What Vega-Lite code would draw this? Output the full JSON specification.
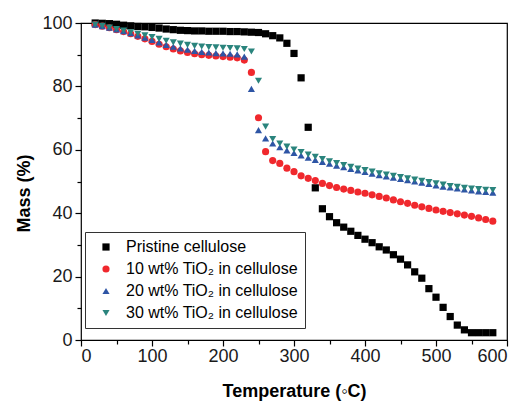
{
  "$schema": "https://vega.github.io/schema/vega-lite/v6.json",
  "width": 426,
  "height": 317,
  "autosize": "none",
  "padding": {"left": 81, "top": 23, "right": 18, "bottom": 63},
  "background": "white",
  "config": {
    "view": {"stroke": "black", "strokeWidth": 1.2},
    "font": "Liberation Sans",
    "axis": {
      "domain": false,
      "grid": false,
      "tickColor": "black",
      "tickWidth": 1.2,
      "labelFont": "Liberation Sans",
      "labelFontSize": 18,
      "labelColor": "#1a1a1a",
      "titleFont": "Liberation Sans",
      "titleFontSize": 18,
      "titleFontWeight": "bold",
      "titleColor": "black"
    },
    "legend": {
      "orient": "none",
      "legendX": 4,
      "legendY": 209,
      "strokeColor": "#333333",
      "fillColor": "white",
      "padding": 7,
      "symbolOffset": 6,
      "labelOffset": 12,
      "labelLimit": 400,
      "rowPadding": 6,
      "labelFont": "Liberation Sans",
      "labelFontSize": 16,
      "labelColor": "black",
      "symbolSize": 50,
      "symbolStrokeWidth": 0
    }
  },
  "data": {
    "values": [
      {"T": 20, "P": 100, "R": 99.5, "B": 99.5, "G": 99.5},
      {"T": 30, "P": 99.9, "R": 99.0, "B": 99.0, "G": 99.1},
      {"T": 40, "P": 99.8, "R": 98.5, "B": 98.5, "G": 98.6},
      {"T": 50, "P": 99.6, "R": 97.9, "B": 98.0, "G": 98.1},
      {"T": 60, "P": 99.3, "R": 97.3, "B": 97.4, "G": 97.6},
      {"T": 70, "P": 99.1, "R": 96.6, "B": 96.8, "G": 97.1},
      {"T": 80, "P": 98.9, "R": 95.8, "B": 96.1, "G": 96.6},
      {"T": 90, "P": 98.8, "R": 95.0, "B": 95.4, "G": 96.1},
      {"T": 100, "P": 98.6, "R": 94.2, "B": 94.7, "G": 95.6},
      {"T": 110, "P": 98.4, "R": 93.3, "B": 93.9, "G": 95.0},
      {"T": 120, "P": 98.1, "R": 92.5, "B": 93.1, "G": 94.4},
      {"T": 130, "P": 97.9, "R": 91.8, "B": 92.5, "G": 93.9},
      {"T": 140, "P": 97.7, "R": 91.2, "B": 92.0, "G": 93.5},
      {"T": 150, "P": 97.6, "R": 90.7, "B": 91.6, "G": 93.1},
      {"T": 160, "P": 97.5, "R": 90.3, "B": 91.2, "G": 92.8},
      {"T": 170, "P": 97.5, "R": 90.0, "B": 90.9, "G": 92.6},
      {"T": 180, "P": 97.4, "R": 89.8, "B": 90.7, "G": 92.4},
      {"T": 190, "P": 97.4, "R": 89.6, "B": 90.5, "G": 92.3},
      {"T": 200, "P": 97.4, "R": 89.4, "B": 90.4, "G": 92.2},
      {"T": 210, "P": 97.3, "R": 89.2, "B": 90.3, "G": 92.1},
      {"T": 220, "P": 97.3, "R": 89.0, "B": 90.1, "G": 92.0},
      {"T": 230, "P": 97.2, "R": 88.3, "B": 89.4, "G": 91.8},
      {"T": 240, "P": 97.1, "R": 84.4, "B": 79.2, "G": 91.0},
      {"T": 250, "P": 97.0, "R": 70.1, "B": 66.2, "G": 81.8},
      {"T": 260, "P": 96.6, "R": 59.4, "B": 63.6, "G": 67.3},
      {"T": 270, "P": 96.0, "R": 56.6, "B": 62.0, "G": 63.4},
      {"T": 280, "P": 95.3, "R": 55.7, "B": 60.8, "G": 62.0},
      {"T": 290, "P": 93.6, "R": 54.2, "B": 59.8, "G": 61.0},
      {"T": 300, "P": 90.4, "R": 53.1, "B": 59.0, "G": 60.1},
      {"T": 310, "P": 82.7, "R": 51.8, "B": 58.2, "G": 59.3},
      {"T": 320, "P": 67.1, "R": 51.0, "B": 57.5, "G": 58.5},
      {"T": 330, "P": 48.0, "R": 50.3, "B": 56.8, "G": 57.8},
      {"T": 340, "P": 41.4, "R": 49.4, "B": 56.2, "G": 57.1},
      {"T": 350, "P": 38.9, "R": 48.7, "B": 55.6, "G": 56.4},
      {"T": 360, "P": 37.0, "R": 48.1, "B": 55.0, "G": 55.8},
      {"T": 370, "P": 35.6, "R": 47.6, "B": 54.5, "G": 55.2},
      {"T": 380, "P": 34.3, "R": 47.2, "B": 54.0, "G": 54.6},
      {"T": 390, "P": 33.0, "R": 46.7, "B": 53.5, "G": 54.1},
      {"T": 400, "P": 31.8, "R": 46.3, "B": 53.0, "G": 53.6},
      {"T": 410, "P": 30.7, "R": 45.8, "B": 52.5, "G": 53.1},
      {"T": 420, "P": 29.4, "R": 45.3, "B": 52.0, "G": 52.6},
      {"T": 430, "P": 28.4, "R": 44.8, "B": 51.6, "G": 52.2},
      {"T": 440, "P": 26.9, "R": 44.2, "B": 51.2, "G": 51.8},
      {"T": 450, "P": 25.5, "R": 43.6, "B": 50.8, "G": 51.4},
      {"T": 460, "P": 23.7, "R": 43.1, "B": 50.4, "G": 51.0},
      {"T": 470, "P": 21.5, "R": 42.5, "B": 50.0, "G": 50.6},
      {"T": 480, "P": 19.5, "R": 42.0, "B": 49.6, "G": 50.2},
      {"T": 490, "P": 16.2, "R": 41.5, "B": 49.2, "G": 49.8},
      {"T": 500, "P": 13.5, "R": 41.0, "B": 48.8, "G": 49.4},
      {"T": 510, "P": 10.3, "R": 40.6, "B": 48.4, "G": 49.0},
      {"T": 520, "P": 7.4, "R": 40.2, "B": 48.1, "G": 48.6},
      {"T": 530, "P": 4.7, "R": 39.8, "B": 47.8, "G": 48.3},
      {"T": 540, "P": 3.2, "R": 39.4, "B": 47.5, "G": 48.0},
      {"T": 550, "P": 2.3, "R": 39.0, "B": 47.2, "G": 47.8},
      {"T": 560, "P": 2.3, "R": 38.5, "B": 46.9, "G": 47.6},
      {"T": 570, "P": 2.3, "R": 38.0, "B": 46.7, "G": 47.4},
      {"T": 580, "P": 2.3, "R": 37.5, "B": 46.5, "G": 47.3}
    ]
  },
  "encoding": {
    "x": {
      "field": "T",
      "type": "quantitative",
      "scale": {"domain": [0, 600], "nice": false, "zero": false},
      "axis": {
        "title": "Temperature (◦C)",
        "values": [0, 50, 100, 150, 200, 250, 300, 350, 400, 450, 500, 550, 600],
        "labelExpr": "datum.value % 100 === 0 ? datum.label : ''",
        "tickSize": {"condition": {"test": "datum.value % 100 === 0", "value": 6}, "value": 4},
        "labelPadding": 1,
        "titleY": 56,
        "titleBaseline": "alphabetic"
      }
    },
    "y": {
      "field": "mass",
      "type": "quantitative",
      "scale": {"domain": [0, 100], "nice": false},
      "axis": {
        "title": "Mass (%)",
        "values": [0, 10, 20, 30, 40, 50, 60, 70, 80, 90, 100],
        "labelExpr": "datum.value % 20 === 0 ? datum.label : ''",
        "tickSize": {"condition": {"test": "datum.value % 20 === 0", "value": 6}, "value": 4},
        "labelPadding": 3,
        "titleAngle": 270,
        "titleX": -52,
        "titleY": 170,
        "titleAlign": "center",
        "titleBaseline": "alphabetic"
      }
    },
    "color": {
      "field": "series",
      "type": "nominal",
      "scale": {
        "domain": ["Pristine cellulose", "10 wt% TiO₂ in cellulose", "20 wt% TiO₂ in cellulose", "30 wt% TiO₂ in cellulose"],
        "range": ["#000000", "#f0282d", "#2e55a5", "#2a847d"]
      },
      "legend": {"title": null}
    },
    "shape": {
      "field": "series",
      "type": "nominal",
      "scale": {
        "domain": ["Pristine cellulose", "10 wt% TiO₂ in cellulose", "20 wt% TiO₂ in cellulose", "30 wt% TiO₂ in cellulose"],
        "range": ["square", "circle", "triangle-up", "triangle-down"]
      },
      "legend": {"title": null}
    },
    "size": {
      "field": "series",
      "type": "nominal",
      "scale": {
        "domain": ["Pristine cellulose", "10 wt% TiO₂ in cellulose", "20 wt% TiO₂ in cellulose", "30 wt% TiO₂ in cellulose"],
        "range": [52, 50, 95, 95]
      },
      "legend": null
    }
  },
  "layer": [
    {
      "transform": [{"fold": ["P"], "as": ["k", "mass"]}, {"lookup": "k", "from": {"data": {"values": [{"k": "P", "series": "Pristine cellulose"}]}, "key": "k", "fields": ["series"]}}],
      "mark": {"type": "point", "filled": true, "opacity": 1, "strokeWidth": 0}
    },
    {
      "transform": [{"fold": ["R"], "as": ["k", "mass"]}, {"lookup": "k", "from": {"data": {"values": [{"k": "R", "series": "10 wt% TiO₂ in cellulose"}]}, "key": "k", "fields": ["series"]}}],
      "mark": {"type": "point", "filled": true, "opacity": 1, "strokeWidth": 0}
    },
    {
      "transform": [{"fold": ["B"], "as": ["k", "mass"]}, {"lookup": "k", "from": {"data": {"values": [{"k": "B", "series": "20 wt% TiO₂ in cellulose"}]}, "key": "k", "fields": ["series"]}}],
      "mark": {"type": "point", "filled": true, "opacity": 1, "strokeWidth": 0}
    },
    {
      "transform": [{"fold": ["G"], "as": ["k", "mass"]}, {"lookup": "k", "from": {"data": {"values": [{"k": "G", "series": "30 wt% TiO₂ in cellulose"}]}, "key": "k", "fields": ["series"]}}],
      "mark": {"type": "point", "filled": true, "opacity": 1, "strokeWidth": 0}
    }
  ]
}
